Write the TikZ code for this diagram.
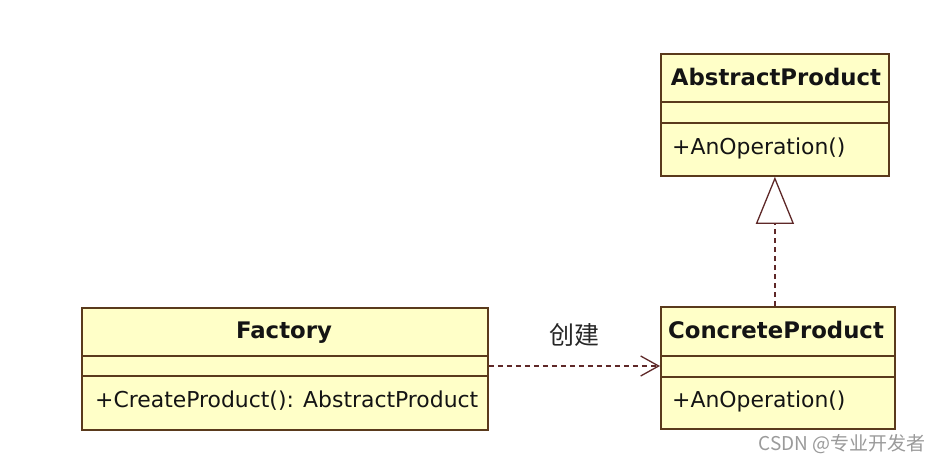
\documentclass[tikz,border=0pt]{standalone}
\usepackage{fontspec}
\setmainfont{DejaVu Sans}
\newfontfamily\cjk{Noto Sans CJK SC}
\usetikzlibrary{arrows.meta}
\definecolor{umlfill}{HTML}{FFFFC8}
\definecolor{umlline}{HTML}{5A3A1C}
\definecolor{dashcol}{HTML}{5E2828}
\definecolor{wmark}{HTML}{9A9A9A}
\begin{document}
\begin{tikzpicture}[x=1pt,y=-1pt,
 classbox/.style={rectangle, draw=umlline, fill=umlfill, line width=1.8pt, minimum height=122pt, inner sep=0pt, anchor=north west},
 divider/.style={draw=umlline, line width=1.5pt},
 ctitle/.style={font=\bfseries\fontsize{22.8}{27}\selectfont, text=black!92, inner sep=0pt},
 member/.style={font=\fontsize{21.9}{26}\selectfont, text=black!92, inner sep=0pt, anchor=west},
 dep/.style={draw=dashcol, line width=1.3pt, dash pattern=on 5pt off 4pt},
]
\useasboundingbox[fill=white] (0,0) rectangle (943,464);
% AbstractProduct
\node[classbox, minimum width=228pt] (abs) at (660,53) {};
\draw[divider] (abs.west |- 0,102) -- (abs.east |- 0,102);
\draw[divider] (abs.west |- 0,123) -- (abs.east |- 0,123);
\node[ctitle] (absT) at (776,77) {AbstractProduct};
\node[member] (absM) at (672,148) {+AnOperation()};
% Factory
\node[classbox, minimum width=406pt] (fac) at (81,307) {};
\draw[divider] (fac.west |- 0,356) -- (fac.east |- 0,356);
\draw[divider] (fac.west |- 0,376) -- (fac.east |- 0,376);
\node[ctitle] (facT) at (284,333) {Factory};
\node[member] (facM) at (95,401) {+CreateProduct(): AbstractProduct};
% ConcreteProduct
\node[classbox, minimum width=234pt] (con) at (660,306) {};
\draw[divider] (con.west |- 0,356) -- (con.east |- 0,356);
\draw[divider] (con.west |- 0,377) -- (con.east |- 0,377);
\node[ctitle] (conT) at (776,330) {ConcreteProduct};
\node[member] (conM) at (672,401) {+AnOperation()};
% connectors
\draw[dep, -{Straight Barb[length=18pt,width=20pt,line width=1.3pt]}] (fac.east |- 0,366) -- (con.west |- 0,366);
\draw[dep, -{Triangle[open, length=47pt, width=38pt, fill=white, line width=1.3pt]}] (abs.south |- con.north) -- (abs.south);
\node[font=\cjk\fontsize{25}{30}\selectfont, text=black!85, inner sep=0pt] (lbl) at (574,335) {创建};
\node[font=\cjk\fontsize{19}{23}\selectfont, text=wmark, anchor=east, inner sep=0pt] (wm) at (926,444) {CSDN @专业开发者};
\end{tikzpicture}
\end{document}
